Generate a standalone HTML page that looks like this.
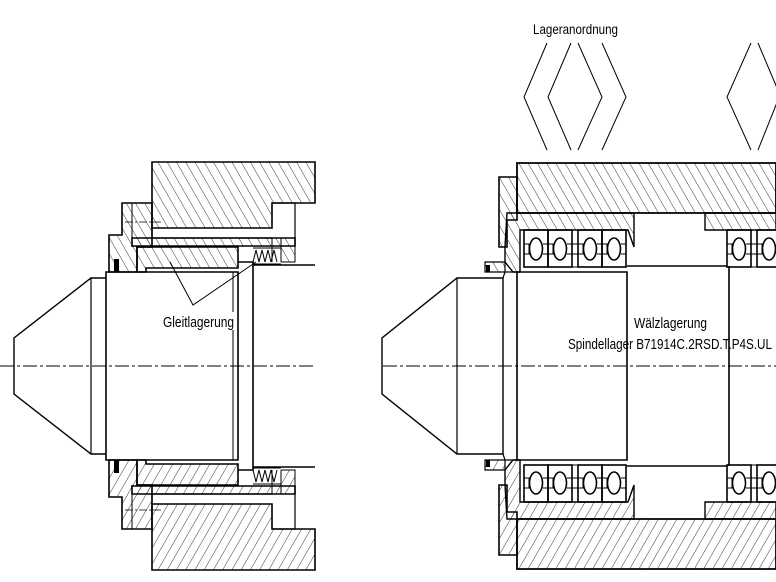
<!DOCTYPE html>
<html><head><meta charset="utf-8"><style>
html,body{margin:0;padding:0;background:#fff;}
svg{display:block;}
text{font-family:"Liberation Sans",sans-serif;fill:#000;}
</style></head><body>
<svg width="776" height="582" viewBox="0 0 776 582" xmlns="http://www.w3.org/2000/svg">
<defs>
<pattern id="h" patternUnits="userSpaceOnUse" width="12" height="8" patternTransform="rotate(60)">
<line x1="0" y1="0" x2="12" y2="0" stroke="#222" stroke-width="0.9"/>
</pattern>
<g id="leftTop" stroke="#000" fill="none">
  <!-- housing -->
  <path d="M152,162 H315 V203 H272 V228 H152 Z" fill="url(#h)" stroke-width="1.6"/>
  <path d="M272,203 H295 V246" stroke-width="1.2"/>
  <path d="M152,228 V238 H272" stroke-width="1.2"/>
  <!-- flange -->
  <path d="M122,203 H152 V247 H137 V272 H109 V235 H122 Z" fill="url(#h)" stroke-width="1.6"/>
  <line x1="132" y1="203" x2="132" y2="247" stroke-width="1"/>
  <path d="M125,222 H163" stroke-width="0.8" stroke-dasharray="8 2 2 2"/>
  <rect x="114" y="259" width="5" height="13" fill="#000" stroke="none"/>
  <!-- sleeve strip -->
  <path d="M132,238 H295 V246 H132 Z" fill="url(#h)" stroke-width="1.6"/>
  <line x1="272" y1="238" x2="272" y2="262" stroke-width="1"/>
  <line x1="281" y1="238" x2="281" y2="262" stroke-width="1"/>
  <!-- bushing -->
  <path d="M137,247 H238 V268 H146 V272 H137 Z" fill="url(#h)" stroke-width="1.6"/>
  <!-- spring -->
  <path d="M253,262 L256,250 L259,262 L262,250 L265,262 L268,250 L271,262 L274,250 L277,262" stroke-width="1"/>
  <path d="M253,248 H281 M253,264 H281" stroke-width="1"/>
  <path d="M281,246 H295 V262 H281" fill="url(#h)" stroke-width="1"/>
  <!-- spindle -->
  <path d="M14,366 V338 L91,278 H106" stroke-width="1.4"/>
  <line x1="91" y1="278" x2="91" y2="366" stroke-width="1.2"/>
  <path d="M106,366 V272 H238 V366" stroke-width="1.6"/>
  <line x1="233" y1="272" x2="233" y2="366" stroke-width="1"/>
  <path d="M238,262 H253 V366" stroke-width="1.6"/>
  <path d="M253,265 H315" stroke-width="1.6"/>
</g>
<g id="rightTop" stroke="#000" fill="none">
  <path d="M517,163 H776 V213 H517 Z" fill="url(#h)" stroke-width="1.8"/>
  <path d="M499,177 H517 V220 H507 V247 H499 Z" fill="url(#h)" stroke-width="1.6"/>
  <path d="M507,213 H634 V247 L628,230 H520 V272 H513 L505,262 V247 Z" fill="url(#h)" stroke-width="1.4"/>
  <path d="M485,262 H505 V272 H485 Z" fill="url(#h)" stroke-width="1.2"/>
  <rect x="486" y="265" width="4" height="7" fill="#000" stroke="none"/>
  <path d="M705,213 H776 V230 H705 Z" fill="url(#h)" stroke-width="1.4"/>
  <!-- bearings -->
  <g stroke-width="1.6">
    <rect x="524" y="230" width="24" height="37"/>
    <rect x="548" y="230" width="24" height="37"/>
    <rect x="578" y="230" width="24" height="37"/>
    <rect x="602" y="230" width="24" height="37"/>
    <rect x="572" y="230" width="6" height="37" stroke-width="1"/>
    <ellipse cx="536" cy="249" rx="6.5" ry="11"/>
    <ellipse cx="560" cy="249" rx="6.5" ry="11"/>
    <ellipse cx="590" cy="249" rx="6.5" ry="11"/>
    <ellipse cx="614" cy="249" rx="6.5" ry="11"/>
    <path d="M524,244 H529 V254 H524 M543,244 H553 V254 H543 M567,244 H583 V254 H567 M597,244 H607 V254 H597 M621,244 H626 V254 H621" stroke-width="1"/>
    <rect x="727" y="230" width="24" height="37"/>
    <rect x="757" y="230" width="24" height="37"/>
    <rect x="751" y="230" width="6" height="37" stroke-width="1"/>
    <ellipse cx="739" cy="249" rx="6.5" ry="11"/>
    <ellipse cx="769" cy="249" rx="6.5" ry="11"/>
    <path d="M727,244 H732 V254 H727 M746,244 H762 V254 H746" stroke-width="1"/>
  </g>
  <!-- spindle -->
  <path d="M382,366 V338 L457,278 H503 V366" stroke-width="1.4"/>
  <line x1="457" y1="278" x2="457" y2="366" stroke-width="1.2"/>
  <path d="M503,278 L505,272 H517" stroke-width="1.2"/>
  <path d="M517,366 V272 H627 V366" stroke-width="1.6"/>
  <path d="M627,266 H727 M729,266 V366" stroke-width="1.6"/>
</g>
</defs>
<use href="#leftTop"/>
<use href="#leftTop" transform="matrix(1,0,0,-1,0,732)"/>
<use href="#rightTop"/>
<use href="#rightTop" transform="matrix(1,0,0,-1,0,732)"/>
<!-- center lines -->
<line x1="0" y1="366" x2="315" y2="366" stroke="#000" stroke-width="1" stroke-dasharray="14 3 3 3"/>
<line x1="383" y1="366" x2="776" y2="366" stroke="#000" stroke-width="1" stroke-dasharray="14 3 3 3"/>
<!-- chevrons -->
<g stroke="#000" stroke-width="1" fill="none">
  <path d="M547,43 L524,97 L547,150"/>
  <path d="M571,43 L548,97 L571,150"/>
  <path d="M578,43 L602,97 L578,150"/>
  <path d="M602,43 L626,97 L602,150"/>
  <path d="M751,43 L727,97 L751,150"/>
  <path d="M758,43 L780,95 L758,150"/>
</g>
<!-- leaders -->
<path d="M170,262 L193,305 L256,262" stroke="#000" stroke-width="1" fill="none"/>
<!-- labels -->
<text x="533" y="34" font-size="14" textLength="85" lengthAdjust="spacingAndGlyphs">Lageranordnung</text>
<rect x="160" y="312" width="76" height="18" fill="#fff"/>
<text x="163" y="327" font-size="15" textLength="71" lengthAdjust="spacingAndGlyphs">Gleitlagerung</text>
<text x="634" y="328" font-size="15" textLength="73" lengthAdjust="spacingAndGlyphs">Wälzlagerung</text>
<text x="568" y="349" font-size="15" textLength="204" lengthAdjust="spacingAndGlyphs">Spindellager B71914C.2RSD.T.P4S.UL</text>
</svg>
</body></html>
